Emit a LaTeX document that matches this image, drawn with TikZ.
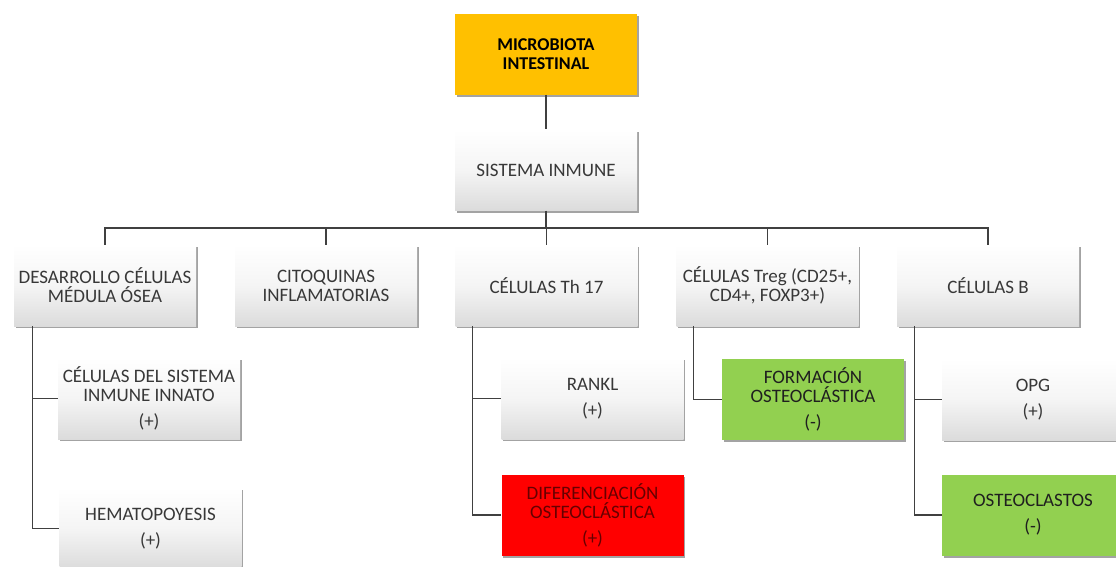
\documentclass[tikz,border=0pt]{standalone}
\usepackage{fontspec}
\setmainfont{Carlito}
\usetikzlibrary{shadows}
\definecolor{gold}{HTML}{FFC000}
\definecolor{leaf}{HTML}{92D050}

\begin{document}
\begin{tikzpicture}[x=1pt,y=-1pt,font=\fontsize{19}{19}\selectfont,
  b/.style={minimum width=182pt,minimum height=81pt,inner sep=0pt,align=center,text=black!78,
    drop shadow={shadow xshift=1.5pt,shadow yshift=-2pt,fill=black!60,opacity=.6}},
  w/.style={b,top color=white,bottom color=black!14,middle color=white!96!black},
  c/.style={draw=black!75,line width=1.3pt}]
\useasboundingbox (0,0) rectangle (1116,566);
\clip (0,0) rectangle (1116,566);
\node[b,fill=gold,text=black,font=\fontsize{18}{19}\selectfont\bfseries] (micro) at (546,54) {MICROBIOTA\\INTESTINAL};
\node[w] (sist) at (546,170) {SISTEMA INMUNE};
\node[w] (desa) at (105,285.5) {DESARROLLO CÉLULAS\\MÉDULA ÓSEA};
\node[w] (cito) at (326,285.5) {CITOQUINAS\\INFLAMATORIAS};
\node[w] (th) at (546.5,285.5) {CÉLULAS Th 17};
\node[w] (treg) at (767.5,285.5) {CÉLULAS Treg (CD25+,\\CD4+, FOXP3+)};
\node[w] (celb) at (988,285.5) {CÉLULAS B};
\node[w] (innato) at (149,398.5) {CÉLULAS DEL SISTEMA\\INMUNE INNATO\\[7pt](+)};
\node[w] (hema) at (150.5,528.5) {HEMATOPOYESIS\\[7pt](+)};
\node[w] (rankl) at (592.5,398.5) {RANKL\\[7pt](+)};
\node[b,fill=red,text=red!40!black] (dif) at (592.5,515) {DIFERENCIACIÓN\\OSTEOCLÁSTICA\\[7pt](+)};
\node[b,fill=leaf,text=black!88] (form) at (813,399.5) {FORMACIÓN\\OSTEOCLÁSTICA\\[7pt](-)};
\node[w] (opg) at (1033,399.5) {OPG\\[7pt](+)};
\node[b,fill=leaf,text=black!88] (osteo) at (1033,515) {OSTEOCLASTOS\\[7pt](-)};
\coordinate (bus) at (546,228);
\draw[c] (micro) -- (sist);
\draw[c] (sist) -- (bus);
\draw[c] (desa.north) |- (bus) -| (celb.north);
\draw[c] (bus -| cito) -- (cito);
\draw[c] (bus -| th) -- (th);
\draw[c] (bus -| treg) -- (treg);
\draw[c] ([xshift=19pt]desa.south west) |- (innato.west);
\draw[c] ([xshift=19pt]desa.south west) |- (hema.west);
\draw[c] ([xshift=17pt]th.south west) |- (rankl.west);
\draw[c] ([xshift=17pt]th.south west) |- (dif.west);
\draw[c] ([xshift=17pt]treg.south west) |- (form.west);
\draw[c] ([xshift=18pt]celb.south west) |- (opg.west);
\draw[c] ([xshift=18pt]celb.south west) |- (osteo.west);
\end{tikzpicture}
\end{document}
